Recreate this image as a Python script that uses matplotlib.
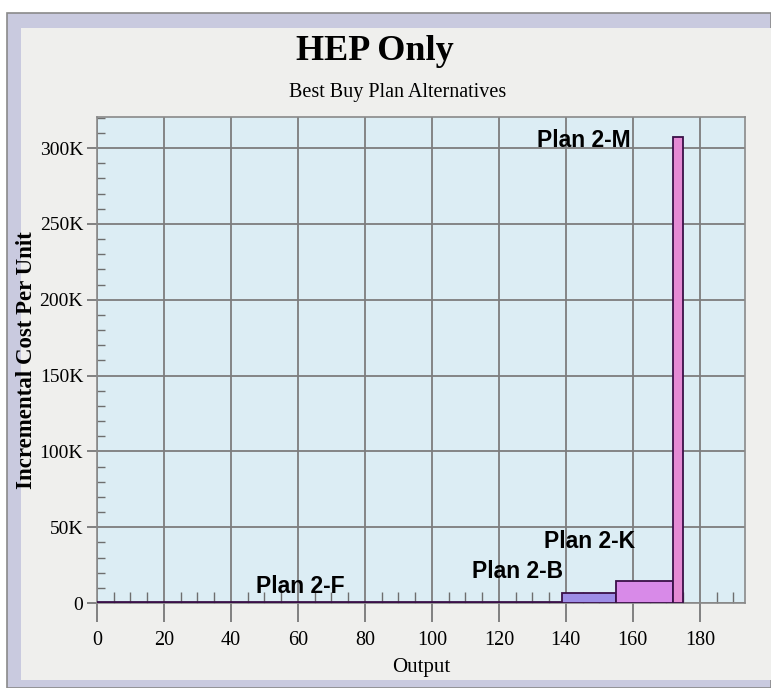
import matplotlib.pyplot as plt
from matplotlib.patches import Rectangle
from matplotlib.ticker import MultipleLocator, FuncFormatter

# best buy plans: output interval and incremental cost per unit
plans = ['Plan 2-F', 'Plan 2-B', 'Plan 2-K', 'Plan 2-M']
output_start = [0, 139, 155, 172]
output_end = [139, 155, 172, 175]
cost = [400, 6500, 14500, 307000]
bar_colors = ['#9d8de6', '#9d8de6', '#d88ae8', '#e58ad4']

# label anchor points (data coords) for each plan name
label_x = [47.5, 112, 133.5, 131.5]
label_y = [10800, 21000, 40500, 305000]

fig = plt.figure(figsize=(7.71, 6.88), dpi=100)
fig.patch.set_facecolor('white')

# outer frame with bluish border and grey inner panel
frame = Rectangle((7 / 771, 0), 1 - 7 / 771, (688 - 13) / 688, transform=fig.transFigure,
                  facecolor='#c9cadf', edgecolor='#8a8a8a', linewidth=1.2, zorder=-2)
panel = Rectangle((21 / 771, 8 / 688), 1 - 21 / 771, (688 - 28 - 8) / 688, transform=fig.transFigure,
                  facecolor='#efefed', edgecolor='none', zorder=-1)
fig.patches.extend([frame, panel])

ax = fig.add_axes([97 / 771, 85 / 688, (745 - 97) / 771, (603 - 117) / 688])
ax.set_facecolor('#dcedf4')

widths = [e - s for s, e in zip(output_start, output_end)]
ax.bar(output_start, cost, width=widths, align='edge', color=bar_colors,
       edgecolor='#3a1048', linewidth=1.3, zorder=3)

for name, x, y in zip(plans, label_x, label_y):
    ax.text(x, y, name, fontsize=16.5, fontweight='bold', family='Liberation Sans',
            ha='left', va='center', zorder=4)

ax.set_xlim(0, 193.5)
ax.set_ylim(0, 320500)

ax.xaxis.set_major_locator(MultipleLocator(20))
ax.xaxis.set_minor_locator(MultipleLocator(5))
ax.yaxis.set_major_locator(MultipleLocator(50000))
ax.yaxis.set_minor_locator(MultipleLocator(10000))
ax.yaxis.set_major_formatter(FuncFormatter(lambda v, p: '0' if v == 0 else f'{int(v / 1000)}K'))

ax.grid(True, which='major', color='#7d7d7d', linewidth=1.3, zorder=1)
ax.set_axisbelow(True)
ax.tick_params(which='major', direction='out', width=1.2, color='#6e6e6e', labelsize=14.5)
ax.tick_params(axis='x', which='major', length=14, pad=6)
ax.tick_params(axis='y', which='major', length=7, pad=3, labelsize=14)
ax.tick_params(axis='x', which='minor', direction='in', length=8, width=1, color='#6e6e6e')
ax.tick_params(axis='y', which='minor', direction='in', length=6, width=1, color='#6e6e6e')
for lab in ax.get_xticklabels() + ax.get_yticklabels():
    lab.set_family('Liberation Serif')

for side in ['top', 'right', 'left', 'bottom']:
    ax.spines[side].set_color('#8a8a8a')
    ax.spines[side].set_linewidth(1.2)

ax.set_xlabel('Output', family='Liberation Serif', fontsize=15, labelpad=6)
ax.set_ylabel('Incremental Cost Per Unit', family='Liberation Serif', fontsize=16.5,
              fontweight='bold')
ax.yaxis.set_label_coords(-0.092, 0.5)

fig.text(375 / 771, 1 - 52 / 688, 'HEP Only', family='Liberation Serif', fontsize=26,
         fontweight='bold', ha='center', va='center')
fig.text(398 / 771, 1 - 92 / 688, 'Best Buy Plan Alternatives', family='Liberation Serif',
         fontsize=14.5, ha='center', va='center')

fig.savefig('out.png', dpi=100, facecolor=fig.get_facecolor())
